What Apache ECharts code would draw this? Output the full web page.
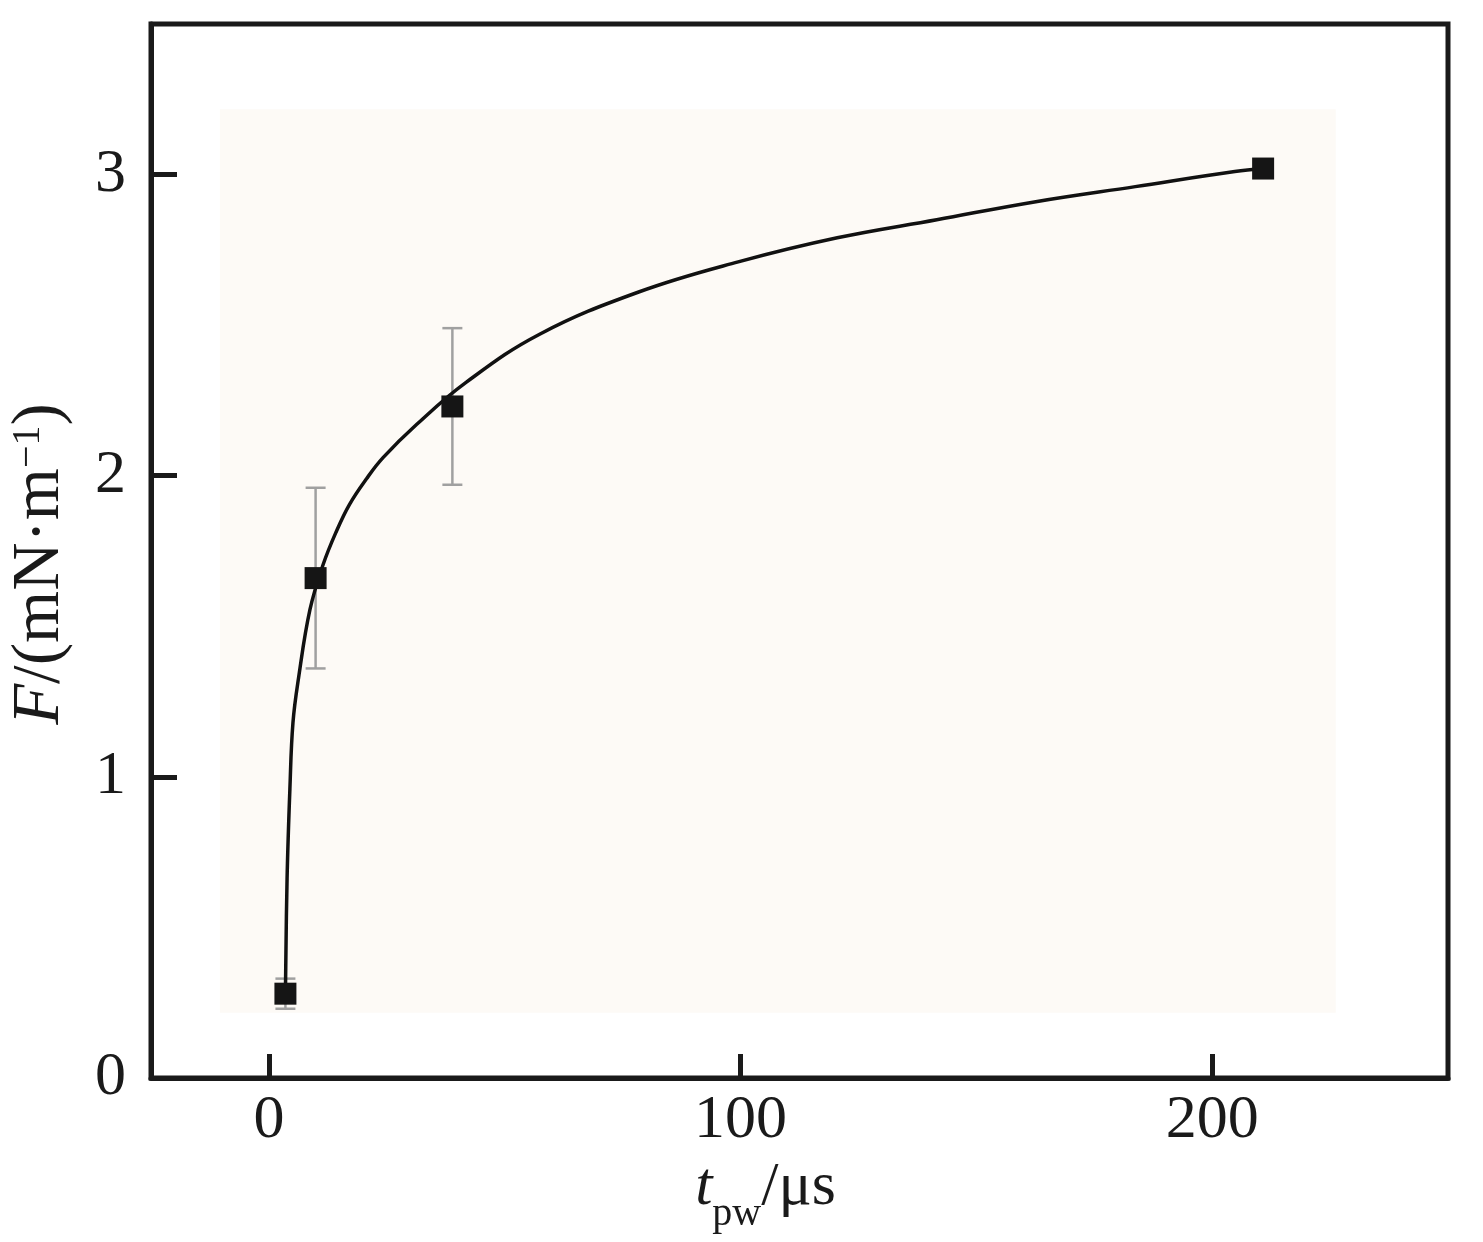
<!DOCTYPE html>
<html>
<head>
<meta charset="utf-8">
<script src="https://cdn.jsdelivr.net/npm/echarts@6/dist/echarts.min.js"></script>
<style>
html,body{margin:0;padding:0;background:#fff;}
#c{width:1483px;height:1242px;}
</style>
</head>
<body>
<div id="c"></div>
<script>
// ---- data ----
const xTicks = [0, 100, 200];
const yTicks = [0, 1, 2, 3];
const pointT = [3.5, 9.9, 38.9, 210.8];
const pointF = [0.28, 1.66, 2.23, 3.02];
const pointErr = [0.05, 0.30, 0.26, 0.02];
const fitT = [3.5, 3.85, 4.45, 5.1, 6.3, 8.7, 11.5, 14.3, 17.1, 20.7, 24.2, 31.3, 41.8, 57.4, 78.4, 99.5, 120.5, 141.6, 162.6, 183.7, 204.8, 210.8];
const fitF = [0.28, 0.66, 0.96, 1.18, 1.33, 1.555, 1.705, 1.815, 1.905, 1.99, 2.06, 2.17, 2.31, 2.47, 2.61, 2.71, 2.79, 2.85, 2.91, 2.96, 3.01, 3.02];
const bgX = [-10.4, 226.2];
const bgY = [0.217, 3.217];

const fitData = fitT.map((t, i) => [t, fitF[i]]);
const pointData = pointT.map((t, i) => [t, pointF[i]]);
const errData = pointT.map((t, i) => [t, pointF[i] - pointErr[i], pointF[i] + pointErr[i]]);

const FONT = '"Liberation Serif", "Times New Roman", serif';
const INK = '#1a1a1a';

const chart = echarts.init(document.getElementById('c'));
chart.setOption({
  animation: false,
  backgroundColor: '#ffffff',
  grid: {
    left: 151, right: 35, top: 24, bottom: 164,
    outerBoundsMode: 'none',
    containLabel: false,
    show: true, borderColor: INK, borderWidth: 5, backgroundColor: 'transparent'
  },
  xAxis: {
    type: 'value', min: -25, max: 250,
    splitLine: {show: false},
    axisLine: {show: true, onZero: false, lineStyle: {color: INK, width: 5}},
    axisTick: {show: true, inside: true, length: 24, customValues: xTicks, lineStyle: {color: INK, width: 5}},
    axisLabel: {customValues: xTicks, color: INK, fontFamily: FONT, fontSize: 62, margin: 12},
    name: '{it|t}{sub|pw}{n|/μs}',
    nameLocation: 'middle',
    nameGap: 54,
    nameTextStyle: {
      padding: [0, 68, 0, 0],
      rich: {
        it: {fontFamily: FONT, fontStyle: 'italic', fontSize: 62, color: INK, verticalAlign: 'top', lineHeight: 62},
        n: {fontFamily: FONT, fontSize: 62, color: INK, verticalAlign: 'top', lineHeight: 62},
        sub: {fontFamily: FONT, fontSize: 40, color: INK, verticalAlign: 'top', lineHeight: 40, padding: [38, 0, 0, 0]}
      }
    }
  },
  yAxis: {
    type: 'value', min: 0, max: 3.5,
    splitLine: {show: false},
    axisLine: {show: true, onZero: false, lineStyle: {color: INK, width: 5}},
    axisTick: {show: true, inside: true, length: 26, customValues: [1, 2, 3], lineStyle: {color: INK, width: 5}},
    axisLabel: {customValues: yTicks, color: INK, fontFamily: FONT, fontSize: 62, margin: 25},
    name: '{it|F}{n|/(mN·m}{sup|−1}{n|)}',
    nameLocation: 'middle',
    nameRotate: 90,
    nameGap: 77,
    nameTextStyle: {
      padding: [0, 26, 0, 0],
      rich: {
        it: {fontFamily: FONT, fontStyle: 'italic', fontSize: 67, color: INK, verticalAlign: 'bottom', lineHeight: 66},
        n: {fontFamily: FONT, fontSize: 67, color: INK, verticalAlign: 'bottom', lineHeight: 66},
        sup: {fontFamily: FONT, fontSize: 40, color: INK, verticalAlign: 'top', lineHeight: 40}
      }
    }
  },
  series: [
    {
      type: 'line',
      name: 'bg',
      data: [],
      silent: true,
      markArea: {
        silent: true,
        itemStyle: {color: '#fdfaf6'},
        data: [[{coord: [bgX[0], bgY[0]]}, {coord: [bgX[1], bgY[1]]}]]
      },
      z: 0
    },
    {
      type: 'custom',
      name: 'err',
      data: errData,
      z: 2,
      renderItem: function (params, api) {
        const x = api.value(0);
        const lo = api.coord([x, api.value(1)]);
        const hi = api.coord([x, api.value(2)]);
        const w = 10;
        const st = {stroke: '#a0a0a0', lineWidth: 2.5};
        return {
          type: 'group',
          children: [
            {type: 'line', shape: {x1: lo[0], y1: lo[1], x2: hi[0], y2: hi[1]}, style: st},
            {type: 'line', shape: {x1: lo[0] - w, y1: lo[1], x2: lo[0] + w, y2: lo[1]}, style: st},
            {type: 'line', shape: {x1: hi[0] - w, y1: hi[1], x2: hi[0] + w, y2: hi[1]}, style: st}
          ]
        };
      }
    },
    {
      type: 'line',
      name: 'fit',
      data: fitData,
      smooth: 0.4,
      showSymbol: false,
      symbol: 'none',
      lineStyle: {color: '#111', width: 3.5},
      z: 3
    },
    {
      type: 'scatter',
      name: 'points',
      data: pointData,
      symbol: 'rect',
      symbolSize: 22,
      itemStyle: {color: '#151515', opacity: 1},
      z: 4
    }
  ]
});
</script>
</body>
</html>
